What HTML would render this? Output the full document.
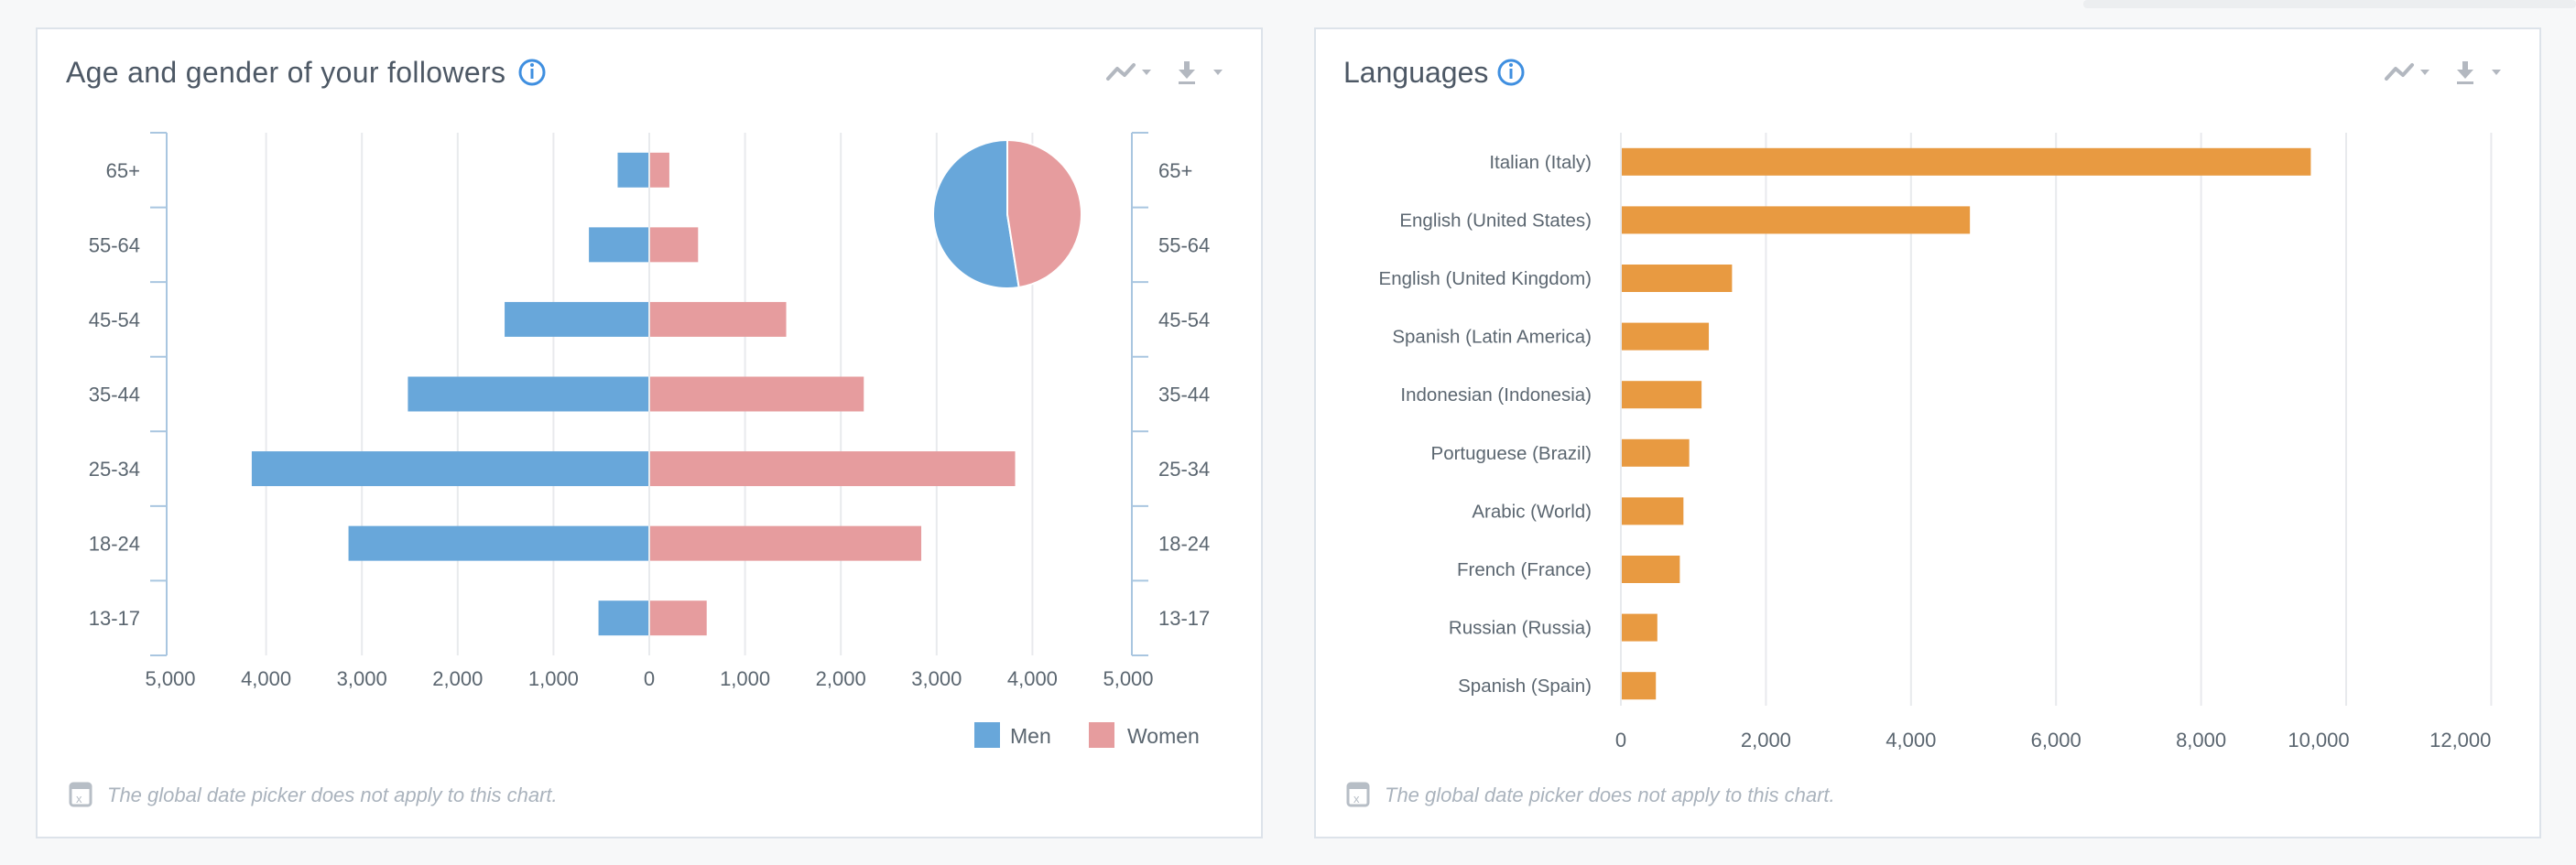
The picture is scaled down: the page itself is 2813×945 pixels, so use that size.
<!DOCTYPE html>
<html><head><meta charset="utf-8"><style>
html,body{margin:0;padding:0;background:#f7f8f9;width:2813px;height:945px;overflow:hidden;font-family:"Liberation Sans",sans-serif}
svg{display:block}
</style></head><body>
<svg width="2813" height="945" viewBox="0 0 2813 945" xmlns="http://www.w3.org/2000/svg">
<rect x="2275" y="0" width="538" height="9" rx="4" fill="#eceef0"/>
<g id="left">
<rect x="40" y="31" width="1338" height="884" fill="#fff" stroke="#dde3ea" stroke-width="2"/>
<text x="72" y="90" font-size="32" fill="#4d5865" textLength="480">Age and gender of your followers</text>
<g><circle cx="581" cy="79" r="13" fill="none" stroke="#3f8fe0" stroke-width="3"/><circle cx="581" cy="71" r="2" fill="#3f8fe0"/><rect x="579.5" y="75" width="3" height="11" fill="#3f8fe0"/></g>
<g><polyline points="1210,86 1220,75 1228,82 1238,71" fill="none" stroke="#b3b8c0" stroke-width="4" stroke-linejoin="round" stroke-linecap="round"/><polygon points="1247,76 1257,76 1252,82" fill="#b3b8c0"/></g>
<g><rect x="1293" y="67" width="6" height="10" fill="#b3b8c0"/><polygon points="1287,76 1305,76 1296,86" fill="#b3b8c0"/><rect x="1287" y="89" width="18" height="3" fill="#b3b8c0"/><polygon points="1325,76 1335,76 1330,82" fill="#b3b8c0"/></g>
<g id="lgrid"></g><g id="lbars"></g><g id="laxis"></g><g id="pie"></g>
<g>
<g><rect x="1064" y="789" width="28" height="28" fill="#68a7da"/><text x="1103" y="812" font-size="23" fill="#5b6670">Men</text></g>
<g><rect x="1189" y="789" width="28" height="28" fill="#e69c9e"/><text x="1231" y="812" font-size="23" fill="#5b6670">Women</text></g>
</g>
<g><rect x="77" y="856" width="22" height="24" rx="3" fill="none" stroke="#b7bec6" stroke-width="3"/><rect x="77" y="856" width="22" height="6" fill="#b7bec6"/><text x="83" y="877" font-size="13" fill="#b7bec6">x</text>
<text x="117" y="876" font-size="22" font-style="italic" fill="#aab3bd">The global date picker does not apply to this chart.</text></g>
</g>
<g id="right">
<rect x="1436" y="31" width="1338" height="884" fill="#fff" stroke="#dde3ea" stroke-width="2"/>
<text x="1467" y="90" font-size="32" fill="#4d5865">Languages</text>
<g><circle cx="1650" cy="79" r="13" fill="none" stroke="#3f8fe0" stroke-width="3"/><circle cx="1650" cy="71" r="2" fill="#3f8fe0"/><rect x="1648.5" y="75" width="3" height="11" fill="#3f8fe0"/></g>
<g><polyline points="2606,86 2616,75 2624,82 2634,71" fill="none" stroke="#b3b8c0" stroke-width="4" stroke-linejoin="round" stroke-linecap="round"/><polygon points="2643,76 2653,76 2648,82" fill="#b3b8c0"/></g>
<g><rect x="2689" y="67" width="6" height="10" fill="#b3b8c0"/><polygon points="2683,76 2701,76 2692,86" fill="#b3b8c0"/><rect x="2683" y="89" width="18" height="3" fill="#b3b8c0"/><polygon points="2721,76 2731,76 2726,82" fill="#b3b8c0"/></g>
<g id="rgrid"></g><g id="rbars"></g>
<g><rect x="1472" y="856" width="22" height="24" rx="3" fill="none" stroke="#b7bec6" stroke-width="3"/><rect x="1472" y="856" width="22" height="6" fill="#b7bec6"/><text x="1478" y="877" font-size="13" fill="#b7bec6">x</text>
<text x="1512" y="876" font-size="22" font-style="italic" fill="#aab3bd">The global date picker does not apply to this chart.</text></g>
</g>
</svg>
<script>
const ageGroups = ["65+","55-64","45-54","35-44","25-34","18-24","13-17"];
const menValues = [330,630,1510,2520,4150,3140,530];
const womenValues = [200,500,1420,2230,3810,2830,590];
const ageTicks = [-5000,-4000,-3000,-2000,-1000,0,1000,2000,3000,4000,5000];
const pieShares = [52.5,47.5];
const languages = ["Italian (Italy)","English (United States)","English (United Kingdom)","Spanish (Latin America)","Indonesian (Indonesia)","Portuguese (Brazil)","Arabic (World)","French (France)","Russian (Russia)","Spanish (Spain)"];
const languageValues = [9500,4800,1520,1200,1100,930,850,800,490,470];
const langTicks = [0,2000,4000,6000,8000,10000,12000];

const NS="http://www.w3.org/2000/svg";
function mk(tag,attrs,parent,text){const e=document.createElementNS(NS,tag);for(const k in attrs)e.setAttribute(k,attrs[k]);if(text!==undefined)e.textContent=text;parent.appendChild(e);return e;}
const fmt=v=>Math.abs(v).toLocaleString('en-US');

// left chart
const lx=v=>709+v*0.1046;
const lTop=145,lBot=716,lBand=(lBot-lTop)/ageGroups.length;
const ly=i=>lTop+lBand*(i+0.5);
const lg=document.getElementById('lgrid'),lb=document.getElementById('lbars'),la=document.getElementById('laxis');
ageTicks.forEach(t=>{
  if(Math.abs(t)!==5000){const l=mk('line',{x1:lx(t),x2:lx(t),y1:lTop,y2:lBot,stroke:'#e8eaed','stroke-width':2},lg);
  
  }
  const tx=mk('text',{x:lx(t),y:749,'text-anchor':'middle','font-size':22,fill:'#5b6670'},la,fmt(t));
  
  
});
[182,1236].forEach((ax,k)=>{
  const l=mk('line',{x1:ax,x2:ax,y1:lTop,y2:lBot,stroke:'#a9c6e0','stroke-width':2},la);
  
  
  for(let i=0;i<=ageGroups.length;i++){const y=lTop+lBand*i;const t=mk('line',{x1:ax,x2:k?ax+18:ax-18,y1:y,y2:y,stroke:'#a9c6e0','stroke-width':2},la);
  
  }
});
ageGroups.forEach((g,i)=>{
  const y=ly(i);
  const m=mk('rect',{x:lx(-menValues[i]),y:y-19,width:lx(0)-lx(-menValues[i])-1,height:38,fill:'#68a7da'},lb);
  
  
  const w=mk('rect',{x:lx(0)+1,y:y-19,width:lx(womenValues[i])-lx(0),height:38,fill:'#e69c9e'},lb);
  
  
  const a=mk('text',{x:153,y:y+8,'text-anchor':'end','font-size':22,fill:'#5b6670'},la,g);
  
  
  const b=mk('text',{x:1265,y:y+8,'font-size':22,fill:'#5b6670'},la,g);
  
  
});
// pie
const pg=document.getElementById('pie');const cx=1100,cy=234,r=81;
let ang=0;const tot=pieShares.reduce((a,b)=>a+b,0);const cols=['#68a7da','#e69c9e'];
pieShares.forEach((s,i)=>{
  const a0=ang,a1=ang-s/tot*2*Math.PI;ang=a1;
  const p0=[cx+r*Math.sin(a0),cy-r*Math.cos(a0)],p1=[cx+r*Math.sin(a1),cy-r*Math.cos(a1)];
  const large=(s/tot>0.5)?1:0;
  const d=`M${cx},${cy} L${p0[0]},${p0[1]} A${r},${r} 0 ${large} 0 ${p1[0]},${p1[1]} Z`;
  const p=mk('path',{d:d,fill:cols[i],stroke:'#fff','stroke-width':2},pg);
  
  
});
// right chart
const rx=v=>1770+v*0.0792;
const rTop=145,rBot=781,rBand=(rBot-rTop)/languages.length;
const ry=i=>rTop+rBand*(i+0.5);
const rg=document.getElementById('rgrid'),rb=document.getElementById('rbars');
langTicks.forEach((t,k)=>{
  const l=mk('line',{x1:rx(t),x2:rx(t),y1:rTop,y2:rBot-10,stroke:'#e8eaed','stroke-width':2},rg);
  
  
  const last=k===langTicks.length-1;
  const tx=mk('text',{x:last?rx(t):(k===langTicks.length-2?rx(t)-30:rx(t)),y:816,'text-anchor':last?'end':'middle','font-size':22,fill:'#5b6670'},rg,fmt(t));
  
  
});
languages.forEach((g,i)=>{
  const y=ry(i);
  const b=mk('rect',{x:rx(0)+1,y:y-15,width:rx(languageValues[i])-rx(0),height:30,fill:'#e89a41'},rb);
  
  
  const t=mk('text',{x:1738,y:y+7,'text-anchor':'end','font-size':20.5,fill:'#5b6670'},rb,g);
  
  
});
</script>
</body></html>
